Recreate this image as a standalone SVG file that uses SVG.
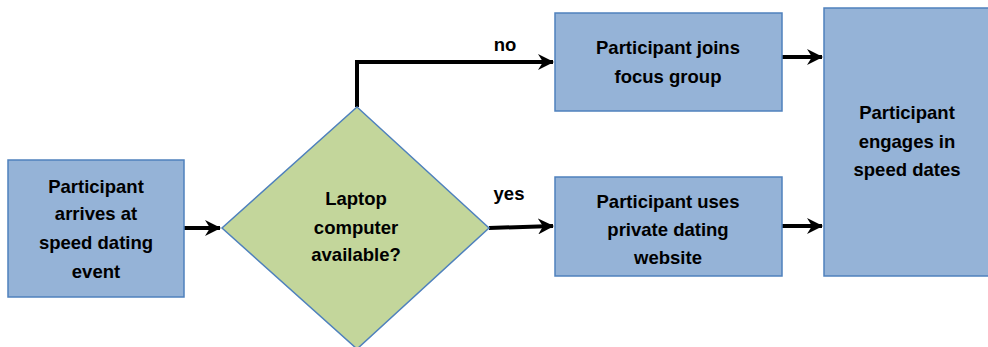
<svg xmlns="http://www.w3.org/2000/svg" width="988" height="347" viewBox="0 0 988 347">
<style>
.box{fill:#95B3D7;stroke:#4F81BD;stroke-width:1.5}
.dia{fill:#C3D69B;stroke:#4F81BD;stroke-width:1.5}
.t{font-family:"Liberation Sans",Arial,sans-serif;font-weight:bold;font-size:18.5px;fill:#000;text-anchor:middle}
.c{fill:none;stroke:#000;stroke-width:4;marker-end:url(#ah)}
</style>
<defs>
<marker id="ah" markerUnits="userSpaceOnUse" markerWidth="18" markerHeight="16" refX="15" refY="8" orient="auto">
<path d="M0,0 L16,8 L0,16 L5,8 Z" fill="#000"/>
</marker>
</defs>
<rect width="988" height="347" fill="#fff"/>
<g id="connectors">
<path class="c" d="M184,228 L220,228"/>
<path class="c" d="M357,107 L357,62 L553,62"/>
<path class="c" d="M489,228 L553,226"/>
<path class="c" d="M782,57 L822,57"/>
<path class="c" d="M782,226 L822,226"/>
</g>
<g id="start">
<rect class="box" x="8" y="160" width="176" height="137"/>
<text class="t" x="96" y="193">Participant</text>
<text class="t" x="96" y="220">arrives at</text>
<text class="t" x="96" y="249">speed dating</text>
<text class="t" x="96" y="278">event</text>
</g>
<g id="decision">
<polygon class="dia" points="357,107 489,228 357,349 222,228"/>
<text class="t" x="356" y="205">Laptop</text>
<text class="t" x="356" y="234">computer</text>
<text class="t" x="356" y="261">available?</text>
</g>
<g id="labels">
<text class="t" x="505" y="51">no</text>
<text class="t" x="509" y="200">yes</text>
</g>
<g id="focus">
<rect class="box" x="555" y="13" width="227" height="98"/>
<text class="t" x="668" y="54">Participant joins</text>
<text class="t" x="668" y="83">focus group</text>
</g>
<g id="website">
<rect class="box" x="555" y="177" width="227" height="99"/>
<text class="t" x="668" y="208">Participant uses</text>
<text class="t" x="668" y="236">private dating</text>
<text class="t" x="668" y="264">website</text>
</g>
<g id="dates">
<rect class="box" x="824" y="8" width="170" height="268"/>
<text class="t" x="907" y="119">Participant</text>
<text class="t" x="907" y="148">engages in</text>
<text class="t" x="907" y="176">speed dates</text>
</g>
</svg>
